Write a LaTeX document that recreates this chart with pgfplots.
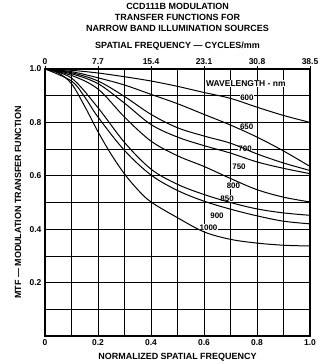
\documentclass[border=0pt]{standalone}
\usepackage{fontspec}
\setmainfont{Liberation Sans}
\usepackage{pgfplots}
\pgfplotsset{compat=1.18}
\tikzset{lbl/.style={fill=white, inner sep=0.6bp, font=\bfseries\fontsize{8}{9}\selectfont}}
\begin{document}
\begin{tikzpicture}
\useasboundingbox (-45bp,-28bp) rectangle (275bp,336bp);
\node[align=center, font=\bfseries\fontsize{9}{11}\selectfont] at (132.5bp,318.3bp) {CCD111B MODULATION\\TRANSFER FUNCTIONS FOR\\NARROW BAND ILLUMINATION SOURCES};
% top axis (spatial frequency in cycles/mm)
\begin{axis}[
  at={(0,0)}, anchor=south west,
  scale only axis, width=265bp, height=267bp,
  xmin=0, xmax=1, ymin=0, ymax=1,
  axis x line*=top, axis y line=none,
  xtick={0,0.2,0.4,0.6,0.8,1.0},
  xticklabels={0,7.7,15.4,23.1,30.8,38.5},
  tick align=outside, major tick length=3bp,
  xtick style={draw=black, line width=0.6bp},
  axis line style={line width=1.2bp},
  xticklabel style={anchor=center, yshift=4.8bp, font=\bfseries\fontsize{8.5}{9}\selectfont},
  xlabel={SPATIAL FREQUENCY — CYCLES/mm},
  xlabel style={at={(axis description cs:0.5,1.085)}, anchor=center, font=\bfseries\fontsize{9}{10}\selectfont},
]
\end{axis}
\begin{axis}[
  at={(0,0)}, anchor=south west,
  scale only axis, width=265bp, height=267bp,
  xmin=0, xmax=1, ymin=0, ymax=1,
  xtick={0,0.2,0.4,0.6,0.8,1.0},
  xticklabels={0,0.2,0.4,0.6,0.8,1.0},
  ytick={0.2,0.4,0.6,0.8,1.0},
  yticklabels={0.2,0.4,0.6,0.8,1.0},
  minor xtick={0.1,0.3,0.5,0.7,0.9},
  minor ytick={0.1,0.3,0.5,0.7,0.9},
  grid=both,
  major grid style={black, line width=0.6bp},
  minor grid style={black, line width=0.6bp},
  tick style={draw=none},
  axis line style={line width=1.2bp},
  xticklabel style={anchor=center, yshift=-7bp, font=\bfseries\fontsize{8.5}{9}\selectfont},
  yticklabel style={anchor=center, xshift=-9.5bp, font=\bfseries\fontsize{8.5}{9}\selectfont},
  xlabel={NORMALIZED SPATIAL FREQUENCY},
  xlabel style={at={(axis description cs:0.5,-0.079)}, anchor=center, font=\bfseries\fontsize{9}{10}\selectfont},
  ylabel={MTF — MODULATION TRANSFER FUNCTION},
  ylabel style={at={(axis description cs:-0.102,0.5)}, anchor=center, font=\bfseries\fontsize{9}{10}\selectfont},
  crv/.style={black, solid, line width=1bp, smooth, tension=0.55, mark=none},
]
\node[lbl, font=\bfseries\fontsize{8.5}{9}\selectfont] at (axis cs:0.758,0.945) {WAVELENGTH - nm};
\node[lbl] at (axis cs:0.762,0.891) {600};
\node[lbl] at (axis cs:0.761,0.784) {650};
\node[lbl] at (axis cs:0.755,0.702) {700};
\node[lbl] at (axis cs:0.732,0.635) {750};
\node[lbl] at (axis cs:0.711,0.563) {800};
\node[lbl] at (axis cs:0.687,0.514) {850};
\node[lbl] at (axis cs:0.649,0.452) {900};
\node[lbl] at (axis cs:0.617,0.405) {1000};
% 600 nm
\addplot[crv] coordinates {(0,1)(0.1,0.995)(0.2,0.985)(0.3,0.971)(0.4,0.955)(0.5,0.935)(0.6,0.912)(0.7,0.89)(0.8,0.857)(0.9,0.826)(1.0,0.80)};
% 650 nm
\addplot[crv] coordinates {(0,1)(0.1,0.99)(0.2,0.967)(0.3,0.94)(0.4,0.905)(0.5,0.87)(0.6,0.83)(0.7,0.79)(0.8,0.745)(0.9,0.693)(1.0,0.635)};
% 700 nm
\addplot[crv] coordinates {(0,1)(0.1,0.986)(0.2,0.955)(0.3,0.897)(0.4,0.83)(0.5,0.78)(0.6,0.749)(0.7,0.722)(0.8,0.682)(0.9,0.648)(1.0,0.62)};
% 750 nm
\addplot[crv] coordinates {(0,1)(0.1,0.982)(0.2,0.945)(0.3,0.872)(0.4,0.792)(0.5,0.745)(0.6,0.713)(0.7,0.685)(0.8,0.652)(0.9,0.628)(1.0,0.608)};
% 800 nm
\addplot[crv] coordinates {(0,1)(0.1,0.976)(0.2,0.925)(0.3,0.82)(0.4,0.73)(0.5,0.675)(0.6,0.635)(0.7,0.59)(0.8,0.548)(0.9,0.52)(1.0,0.502)};
% 850 nm
\addplot[crv] coordinates {(0,1)(0.1,0.966)(0.2,0.855)(0.3,0.725)(0.4,0.625)(0.5,0.568)(0.6,0.53)(0.7,0.5)(0.8,0.476)(0.9,0.461)(1.0,0.452)};
% 900 nm
\addplot[crv] coordinates {(0,1)(0.1,0.955)(0.15,0.895)(0.2,0.82)(0.3,0.695)(0.4,0.603)(0.5,0.545)(0.6,0.505)(0.7,0.475)(0.8,0.45)(0.9,0.43)(1.0,0.42)};
% 1000 nm
\addplot[crv] coordinates {(0,1)(0.05,0.985)(0.1,0.945)(0.15,0.86)(0.2,0.765)(0.25,0.68)(0.3,0.607)(0.35,0.548)(0.4,0.502)(0.5,0.443)(0.6,0.39)(0.7,0.362)(0.8,0.348)(0.9,0.34)(1.0,0.337)};
\end{axis}
\end{tikzpicture}
\end{document}
